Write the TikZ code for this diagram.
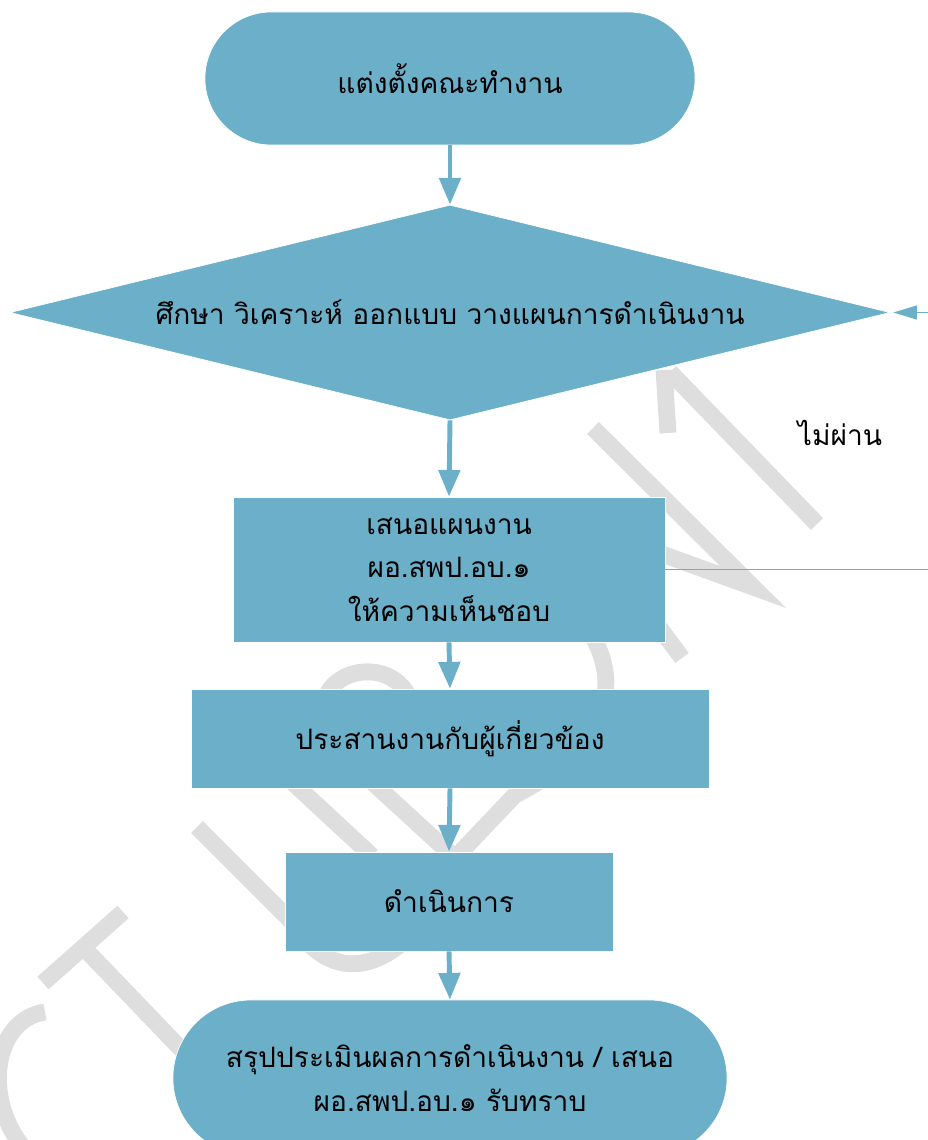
\documentclass[tikz,border=0pt]{standalone}
\usepackage{fontspec}
\setmainfont[Script=Thai]{Loma}
\usepackage{tikz}
\usepackage{xcolor}
\usetikzlibrary{arrows.meta, shapes.geometric}

\definecolor{boxblue}{RGB}{107,175,201}
\definecolor{wmgray}{RGB}{222,222,222}

\tikzset{
    block/.style={rectangle, fill=boxblue, draw=white, line width=0.5pt, inner sep=0pt, align=center, font=\fontsize{20}{31}\selectfont},
    terminal/.style={block, rounded corners=#1},
    decision/.style={block, diamond, aspect=4},
    flow/.style={draw=boxblue, line width=3.5pt, -{Triangle[width=15pt, length=19pt]}},
    back/.style={draw=boxblue, line width=1pt, -{Triangle[width=10pt, length=17pt]}, shorten >=2pt},
    wmstroke/.style={draw=wmgray, line width=12pt}
}

\begin{document}
\begin{tikzpicture}[x=0.025cm, y=-0.025cm]
    \useasboundingbox (0, 0) rectangle (928, 1140);
    \clip (0, 0) rectangle (928, 1140);

    \draw[wmstroke]
    (45, 1012) .. controls (-10, 1020) and (-20, 1110) .. (35, 1160)
    (43, 983) -- (123, 912)
    (83, 947) -- (230, 1100)
    (590, 632) .. controls (632, 700) and (585, 760) .. (515, 795) -- (455, 858)
    .. controls (420, 960) and (340, 1000) .. (295, 925) -- (197, 827)
    (290, 780) -- (372, 856)
    (370, 780) -- (455, 858)
    (325, 700) .. controls (335, 665) and (395, 660) .. (410, 700)
    (664, 370) -- (668, 433)
    (670, 372) -- (817, 524)
    (593, 428) -- (753, 587) -- (640, 546)
    (650, 615) -- (682, 658);

    \node[terminal=1.66cm, minimum width=12.25cm, minimum height=3.325cm] (start) at (450, 78.5) {แต่งตั้งคณะทำงาน};
    \node[decision, minimum width=22cm, minimum height=5.375cm] (study) at (450, 312.5) {ศึกษา วิเคราะห์ ออกแบบ วางแผนการดำเนินงาน};
    \node[block, minimum width=10.8cm, minimum height=3.625cm] (propose) at (449, 569.5) {เสนอแผนงาน\\ผอ.สพป.อบ.๑\\ให้ความเห็นชอบ};
    \node[block, minimum width=12.95cm, minimum height=2.475cm] (coord) at (450, 738.5) {ประสานงานกับผู้เกี่ยวข้อง};
    \node[block, minimum width=8.2cm, minimum height=2.475cm] (operate) at (449, 901.5) {ดำเนินการ};
    \node[terminal=1.95cm, minimum width=13.85cm, minimum height=3.9cm] (summary) at (450, 1078) {สรุปประเมินผลการดำเนินงาน / เสนอ\\ผอ.สพป.อบ.๑ รับทราบ};

    \foreach \a/\b in {start/study, study/propose, propose/coord, coord/operate, operate/summary} {
        \draw[flow] (\a.south) -- (\b.north);
    }

    \coordinate (edge) at (960, 0);
    \draw[back] (propose.east) -- (propose.east -| edge) |- (study.east);
    \node[font=\fontsize{20}{31}\selectfont] (fail) at (840, 433) {ไม่ผ่าน};
\end{tikzpicture}
\end{document}
